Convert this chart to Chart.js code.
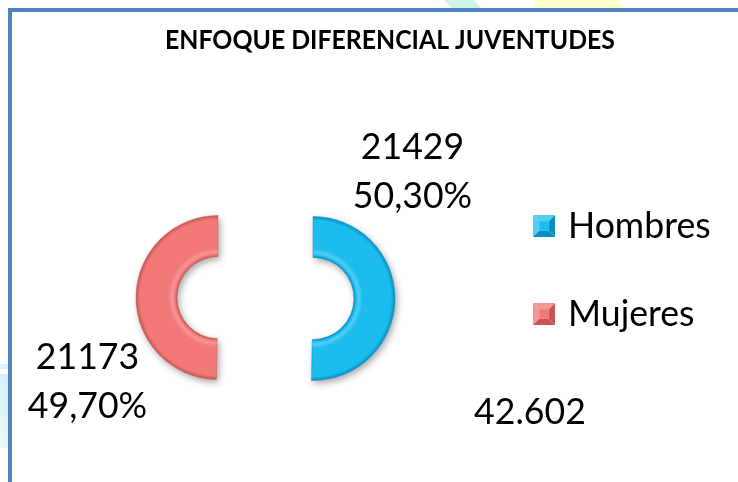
<!DOCTYPE html>
<html>
<head>
<meta charset="utf-8">
<script src="https://cdn.jsdelivr.net/npm/chart.js@4/dist/chart.umd.min.js"></script>
<style>
  html, body { margin: 0; padding: 0; background: #ffffff; overflow: hidden; }
  #wrap { position: relative; width: 738px; height: 482px; }
  canvas { display: block; }
</style>
</head>
<body>
<div id="wrap"><canvas id="chart" width="738" height="482"></canvas></div>
<script>
// ---- data ----
const chartTitle = 'ENFOQUE DIFERENCIAL JUVENTUDES';
const categories = ['Hombres', 'Mujeres'];
const personas = [21429, 21173];

const total = personas.reduce((a, b) => a + b, 0);
const groupThousands = n => String(n).replace(/\B(?=(\d{3})+(?!\d))/g, '.');
const pctText = v => (v / total * 100).toFixed(2).replace('.', ',') + '%';

// ---- styling ----
const palette = {
  Hombres: { base: '#1BBCEE', light: '#52CDF4', dark: '#0A8EC2' },
  Mujeres: { base: '#F27878', light: '#F59696', dark: '#C85454' }
};
const FONT = 'Lato, "Open Sans", sans-serif';

function fitText(ctx, s, x, y, font, align, sx) {
  ctx.save();
  ctx.font = font;
  ctx.textAlign = align;
  ctx.textBaseline = 'middle';
  ctx.translate(x, y);
  ctx.scale(sx, 1);
  ctx.fillText(s, 0, 0);
  ctx.restore();
}

// page frame and the faint decorations around it
const framePlugin = {
  id: 'frame',
  beforeDraw(chart) {
    const ctx = chart.ctx;
    ctx.save();
    ctx.fillStyle = '#ffffff';
    ctx.fillRect(0, 0, chart.width, chart.height);
    // pastel shapes peeking from behind the frame
    ctx.fillStyle = '#CDF5E2';
    ctx.beginPath();
    ctx.moveTo(444, 0); ctx.lineTo(474, 0); ctx.lineTo(482, 9); ctx.lineTo(452, 9); ctx.closePath();
    ctx.fill();
    ctx.fillStyle = '#FFFFCF';
    ctx.beginPath();
    ctx.moveTo(532, 0); ctx.lineTo(618, 0); ctx.lineTo(626, 9); ctx.lineTo(536, 9); ctx.closePath();
    ctx.fill();
    ctx.fillStyle = '#DDF4FC';
    ctx.fillRect(0, 364, 8, 5);
    const g = ctx.createLinearGradient(0, 374, 0, 448);
    g.addColorStop(0, '#D4F1FB');
    g.addColorStop(1, '#E9F8FD');
    ctx.fillStyle = g;
    ctx.fillRect(0, 374, 8, 74);
    // frame lines
    ctx.fillStyle = '#4F81BD';
    ctx.fillRect(8, 8, chart.width - 8, 4);
    ctx.fillRect(8, 8, 4, chart.height - 8);
    ctx.restore();
  }
};

// draws each ring segment pulled away from the centre, with a bevel-like shading
const explodePlugin = {
  id: 'explode',
  beforeDatasetDraw(chart, args, opts) {
    const ctx = chart.ctx;
    const labels = chart.data.labels;
    args.meta.data.forEach((arc, i) => {
      const c = palette[labels[i]];
      const mid = (arc.startAngle + arc.endAngle) / 2;
      const dx = Math.cos(mid) * opts.distance;
      const dy = Math.sin(mid) * opts.distance;
      const g = ctx.createRadialGradient(arc.x, arc.y, arc.innerRadius, arc.x, arc.y, arc.outerRadius);
      g.addColorStop(0, c.dark);
      g.addColorStop(0.05, c.base);
      g.addColorStop(0.11, c.light);
      g.addColorStop(0.22, c.base);
      g.addColorStop(0.9, c.base);
      g.addColorStop(1, c.dark);
      ctx.save();
      ctx.translate(dx, dy);
      ctx.beginPath();
      ctx.arc(arc.x, arc.y, arc.outerRadius, arc.startAngle, arc.endAngle);
      ctx.arc(arc.x, arc.y, arc.innerRadius, arc.endAngle, arc.startAngle, true);
      ctx.closePath();
      ctx.shadowColor = 'rgba(0,0,0,0.35)';
      ctx.shadowBlur = 7;
      ctx.shadowOffsetX = 2;
      ctx.shadowOffsetY = 3;
      ctx.fillStyle = g;
      ctx.fill();
      ctx.shadowColor = 'transparent';
      ctx.lineWidth = 1;
      ctx.strokeStyle = c.dark;
      ctx.globalAlpha = 0.45;
      ctx.stroke();
      ctx.restore();
    });
    return false;
  }
};

// title, value labels, legend and total
const textPlugin = {
  id: 'texts',
  afterDraw(chart, args, opts) {
    const ctx = chart.ctx;
    const meta = chart.getDatasetMeta(0);
    const cx = meta.data[0].x, cy = meta.data[0].y;
    const labels = chart.data.labels;
    const values = chart.data.datasets[0].data;
    ctx.save();
    ctx.fillStyle = '#000000';
    fitText(ctx, chartTitle, opts.title.x, opts.title.y, 'bold 26px ' + FONT, 'center', opts.title.sx);

    const big = '36px ' + FONT;
    values.forEach((v, i) => {
      const o = opts.valueOffsets[i];
      fitText(ctx, String(v), cx + o.dx, cy + o.dy - opts.lineGap / 2, big, 'center', opts.sx);
      fitText(ctx, pctText(v), cx + o.dx, cy + o.dy + opts.lineGap / 2, big, 'center', opts.sx);
    });

    labels.forEach((lab, i) => {
      const c = palette[lab];
      const y = opts.legend.y + i * opts.legend.gap;
      const s = opts.legend.box, x = opts.legend.x, t = y - s / 2;
      const m = s * 0.28;
      const tri = (pts, col) => {
        ctx.fillStyle = col;
        ctx.beginPath();
        ctx.moveTo(pts[0], pts[1]);
        for (let k = 2; k < pts.length; k += 2) ctx.lineTo(pts[k], pts[k + 1]);
        ctx.closePath();
        ctx.fill();
      };
      tri([x, t, x + s, t, x + s - m, t + m, x + m, t + m], c.light);
      tri([x, t, x + m, t + m, x + m, t + s - m, x, t + s], c.light);
      tri([x + s, t, x + s, t + s, x + s - m, t + s - m, x + s - m, t + m], c.dark);
      tri([x, t + s, x + m, t + s - m, x + s - m, t + s - m, x + s, t + s], c.dark);
      ctx.fillStyle = c.base;
      ctx.fillRect(x + m, t + m, s - 2 * m, s - 2 * m);
      ctx.fillStyle = '#000000';
      fitText(ctx, lab, opts.legend.textX, y, big, 'left', opts.sx);
    });

    fitText(ctx, groupThousands(total), opts.total.x, opts.total.y, big, 'center', opts.sx);
    ctx.restore();
  }
};

new Chart(document.getElementById('chart'), {
  type: 'doughnut',
  data: {
    labels: categories,
    datasets: [{
      data: personas,
      backgroundColor: categories.map(c => palette[c].base),
      borderWidth: 0
    }]
  },
  options: {
    responsive: false,
    animation: false,
    events: [],
    radius: 82,
    cutout: '50%',
    layout: { padding: { left: 150, right: 357, top: 190, bottom: 76 } },
    plugins: {
      legend: { display: false },
      title: { display: false },
      tooltip: { enabled: false },
      explode: { distance: 47.5 },
      texts: {
        title: { x: 390, y: 41, sx: 0.955 },
        sx: 0.99,
        lineGap: 49,
        valueOffsets: [{ dx: 147, dy: -126 }, { dx: -178, dy: 84 }],
        legend: { x: 533, y: 226, gap: 88, box: 22, textX: 568 },
        total: { x: 530, y: 412 }
      }
    }
  },
  plugins: [framePlugin, explodePlugin, textPlugin]
});
</script>
</body>
</html>
